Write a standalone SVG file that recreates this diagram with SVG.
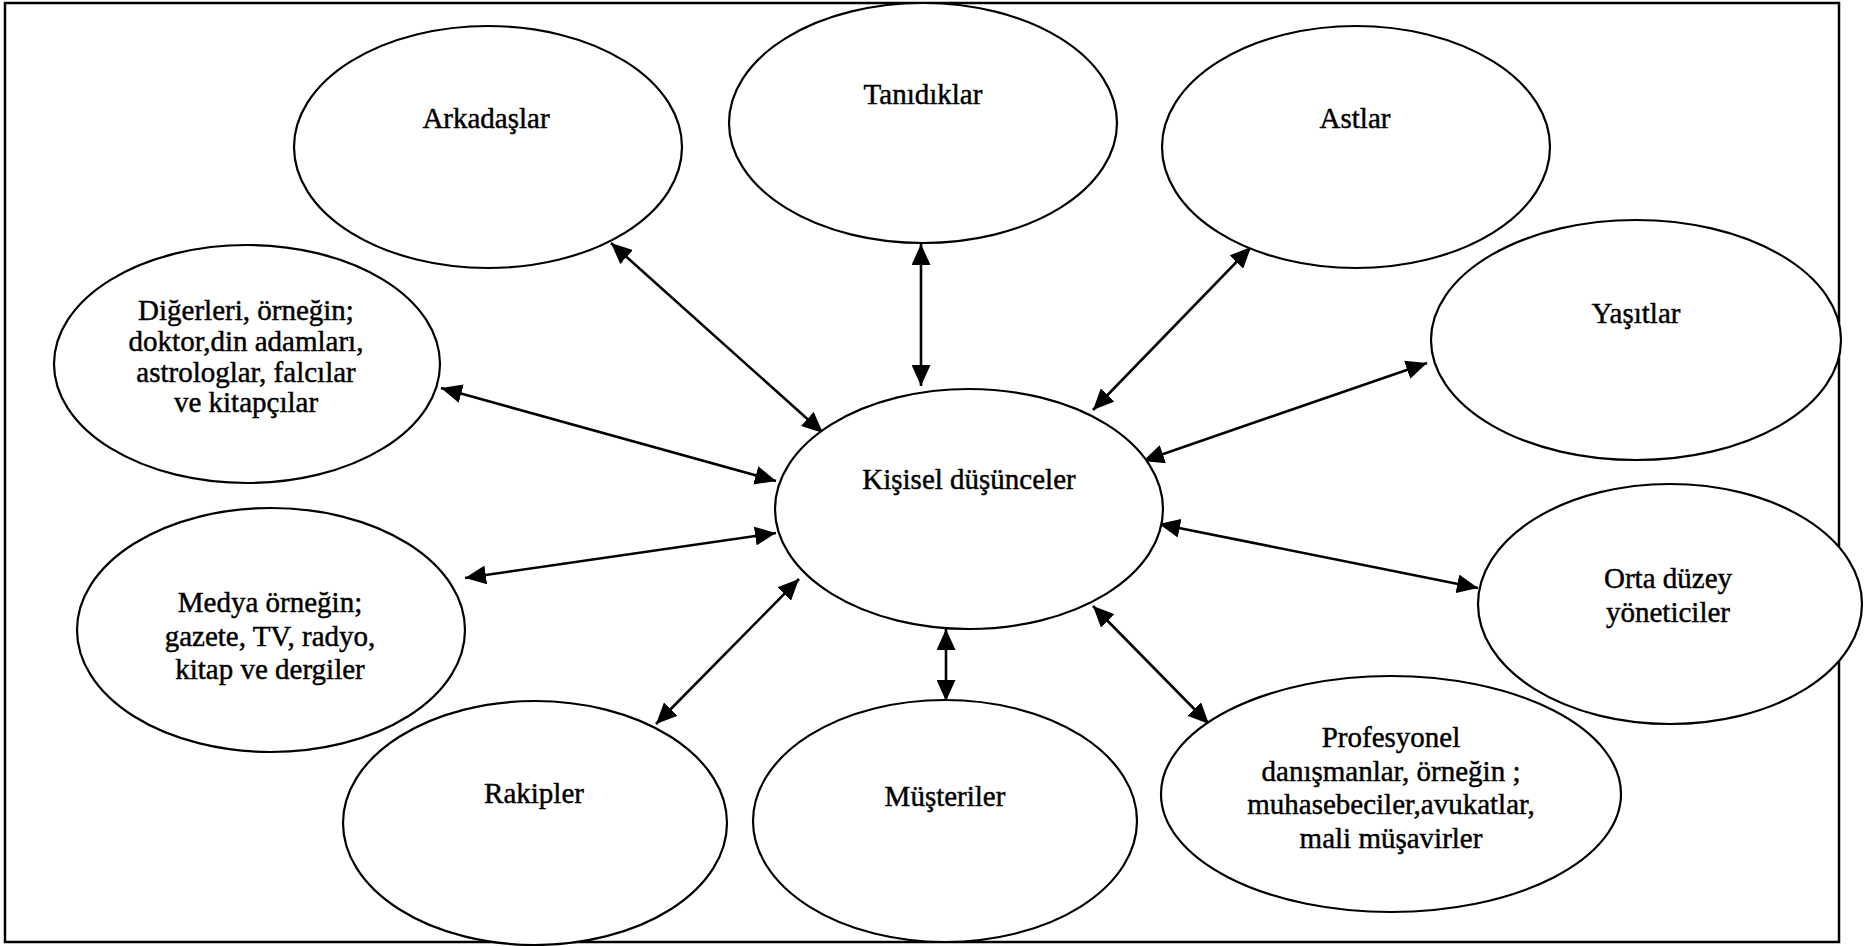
<svg xmlns="http://www.w3.org/2000/svg" width="1870" height="946" viewBox="0 0 1870 946">
<style>
.frame{fill:none;stroke:#000;stroke-width:2.5}
.node ellipse{fill:#fff;stroke:#000;stroke-width:2.2}
.node text{font-family:"Liberation Serif","Times New Roman","DejaVu Serif",serif;font-size:29px;fill:#000;stroke:#000;stroke-width:0.45;text-anchor:middle}
.conn line{stroke:#000;stroke-width:2.6;marker-start:url(#ah);marker-end:url(#ah)}
</style>
<defs>
<marker id="ah" markerUnits="userSpaceOnUse" markerWidth="21" markerHeight="19" refX="21" refY="9.5" orient="auto-start-reverse" viewBox="0 0 21 19">
<path d="M0,0 L21,9.5 L0,19 z" fill="#000"/>
</marker>
</defs>
<rect class="frame" x="5" y="3" width="1834" height="939"/>
<g id="connectors" class="conn">
<line x1="611" y1="243" x2="823" y2="433"/>
<line x1="921" y1="244" x2="921" y2="386"/>
<line x1="1251" y1="247" x2="1093" y2="410"/>
<line x1="1427" y1="363" x2="1143" y2="461"/>
<line x1="441" y1="388" x2="776" y2="481"/>
<line x1="465" y1="578" x2="776" y2="533"/>
<line x1="1159" y1="524" x2="1478" y2="588"/>
<line x1="656" y1="724" x2="799" y2="579"/>
<line x1="946" y1="629" x2="946" y2="701"/>
<line x1="1093" y1="606" x2="1209" y2="724"/>
</g>
<g id="kisisel" class="node"><ellipse cx="969" cy="509" rx="194" ry="120"/><text x="969" y="489">Kişisel düşünceler</text></g>
<g id="arkadaslar" class="node"><ellipse cx="488" cy="147" rx="194" ry="121"/><text x="486" y="128">Arkadaşlar</text></g>
<g id="tanidiklar" class="node"><ellipse cx="923" cy="123" rx="194" ry="120"/><text x="923" y="104">Tanıdıklar</text></g>
<g id="astlar" class="node"><ellipse cx="1356" cy="147" rx="194" ry="121"/><text x="1355" y="128">Astlar</text></g>
<g id="yasitlar" class="node"><ellipse cx="1636" cy="340" rx="205" ry="120"/><text x="1636" y="323">Yaşıtlar</text></g>
<g id="digerleri" class="node"><ellipse cx="247" cy="364" rx="193" ry="119"/><text x="246" y="320">Diğerleri, örneğin;</text><text x="246" y="351">doktor,din adamları,</text><text x="246" y="382">astrologlar, falcılar</text><text x="246" y="412">ve kitapçılar</text></g>
<g id="medya" class="node"><ellipse cx="271" cy="630" rx="194" ry="122"/><text x="270" y="612">Medya örneğin;</text><text x="270" y="646">gazete, TV, radyo,</text><text x="270" y="679">kitap ve dergiler</text></g>
<g id="orta" class="node"><ellipse cx="1670" cy="604" rx="192" ry="120"/><text x="1668" y="588">Orta düzey</text><text x="1668" y="622">yöneticiler</text></g>
<g id="rakipler" class="node"><ellipse cx="535" cy="823" rx="192" ry="122"/><text x="534" y="803">Rakipler</text></g>
<g id="musteriler" class="node"><ellipse cx="945" cy="821" rx="192" ry="121"/><text x="945" y="806">Müşteriler</text></g>
<g id="profesyonel" class="node"><ellipse cx="1391" cy="794" rx="230" ry="118"/><text x="1391" y="747">Profesyonel</text><text x="1391" y="781">danışmanlar, örneğin ;</text><text x="1391" y="814">muhasebeciler,avukatlar,</text><text x="1391" y="848">mali müşavirler</text></g>
</svg>
